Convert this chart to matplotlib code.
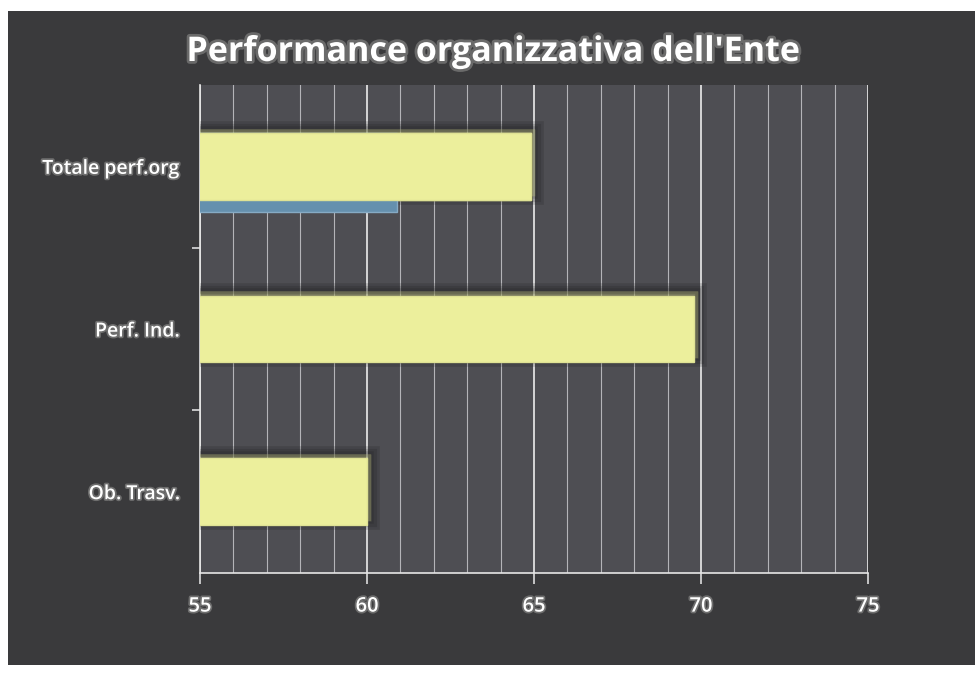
import numpy as np
import matplotlib
matplotlib.use("Agg")
import matplotlib.pyplot as plt
import matplotlib.patheffects as pe
from matplotlib.patches import Rectangle
from matplotlib.ticker import MultipleLocator

categories = ["Ob. Trasv.", "Perf. Ind.", "Totale perf.org"]
values = [60.0, 69.8, 64.9]
# second series, only visible behind the "Totale perf.org" bar
back_values = [np.nan, np.nan, 60.9]

plt.rcParams['font.family'] = ['Open Sans', 'DejaVu Sans']

fig = plt.figure(figsize=(9.75, 6.76), dpi=100, facecolor="white")

# dark chart background (the scan leaves white strips at the edges)
fig.patches.append(Rectangle((8 / 975, 11 / 676), 1 - 8 / 975, 1 - 22 / 676,
                             transform=fig.transFigure, facecolor="#3a3a3c",
                             edgecolor="none", zorder=-1))

ax = fig.add_axes([200 / 975, 1 - 573 / 676, 668 / 975, 488 / 676])
ax.set_zorder(1)
ax.set_facecolor("#4e4e53")

y = np.arange(len(categories))
glow = [pe.withStroke(linewidth=2.5, foreground="#6e6e6e")]
# soft shadow around the bars (mostly above and to the right)
shadow = [pe.Stroke(linewidth=w, foreground="#151515", alpha=0.16, offset=(3, 3))
          for w in (12, 8, 4)] + [pe.Normal()]

ax.barh(y - 0.037, back_values, height=0.485, left=0, color="#6590ae",
        edgecolor="#86aac4", linewidth=1, zorder=5)
ax.barh(y, values, height=0.41, color="#ecef9c", edgecolor="#dfe294",
        linewidth=1, zorder=4, path_effects=shadow)
# yellow bar in front of the blue one for the last category
ax.barh(y[-1], values[-1], height=0.41, color="#ecef9c", edgecolor="#dfe294",
        linewidth=1, zorder=6)

ax.set_xlim(55, 75)
ax.set_ylim(-0.5, 2.5)
ax.xaxis.set_major_locator(MultipleLocator(5))
ax.xaxis.set_minor_locator(MultipleLocator(1))
ax.grid(which="major", axis="x", color="#ececec", linewidth=1.2, zorder=1)
ax.grid(which="minor", axis="x", color="#b4b4b8", linewidth=0.8, zorder=1)
ax.set_axisbelow(True)

ax.set_yticks(y)
ax.set_yticklabels(categories)
ax.set_yticks([0.5, 1.5], minor=True)
ax.tick_params(axis="y", which="major", length=0, pad=14, labelsize=14,
               labelcolor="white")
ax.tick_params(axis="y", which="minor", length=6, width=1.2, color="#dddddd")
ax.tick_params(axis="x", which="major", length=8, width=1.2, color="#dddddd",
               pad=9, labelsize=14.5, labelcolor="white")
ax.tick_params(axis="x", which="minor", length=0)
for lab in ax.get_xticklabels() + ax.get_yticklabels():
    lab.set_path_effects(glow)
    lab.set_fontweight("semibold")

for side in ["top", "right"]:
    ax.spines[side].set_visible(False)
for side in ["left", "bottom"]:
    ax.spines[side].set_color("#e6e6e6")
    ax.spines[side].set_linewidth(1.2)

fig.text(0.505, 1 - 52 / 676, "Performance organizzativa dell'Ente",
         ha="center", va="center", fontsize=24.5, fontweight="bold",
         color="white", path_effects=[pe.withStroke(linewidth=4, foreground="#6a6a6a")])

fig.savefig("out.png", dpi=100, facecolor=fig.get_facecolor())
